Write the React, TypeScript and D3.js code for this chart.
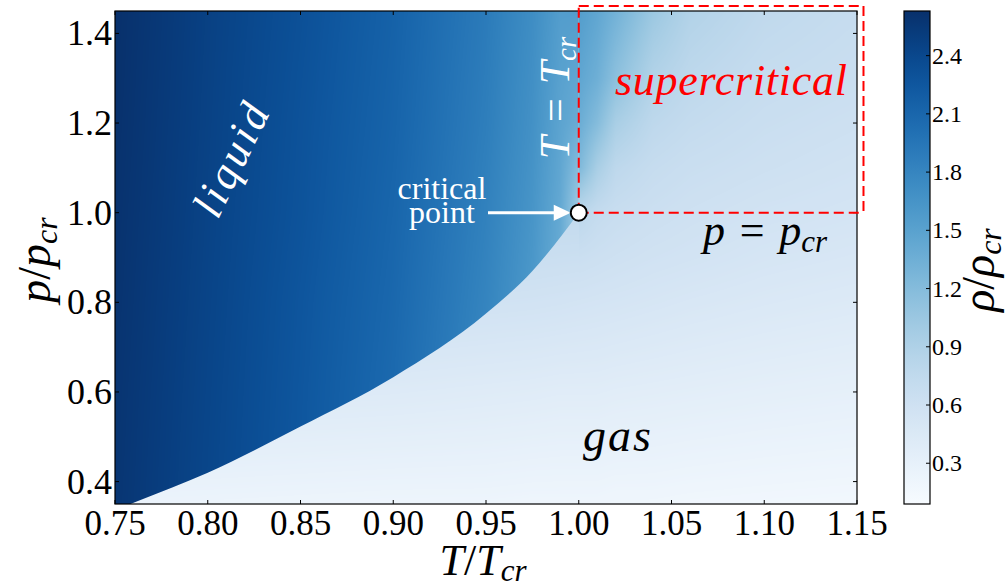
import React, { useMemo } from 'react';
import * as d3 from 'd3';

const W = 1008;
const H = 588;
const M = { left: 115, right: 857, top: 11, bottom: 504 };
const CB = { left: 904, right: 930 };

const tDomain = [0.75, 1.15];
const pDomain = [0.35, 1.45];
const rhoDomain = [0.09, 2.63];

const xTicks = [0.75, 0.8, 0.85, 0.9, 0.95, 1.0, 1.05, 1.1, 1.15];
const yTicks = [0.4, 0.6, 0.8, 1.0, 1.2, 1.4];
const cbTicks = [0.3, 0.6, 0.9, 1.2, 1.5, 1.8, 2.1, 2.4];

// saturation (liquid-vapour coexistence) curve
const satT = [0.75, 0.7617, 0.8, 0.85, 0.9, 0.95, 0.975, 1.0];
const satP = [0.336, 0.3556, 0.42, 0.523, 0.633, 0.775, 0.87, 1.0];

// critical point and supercritical box
const critT = 1.0;
const critP = 1.0;
const boxT = [1.0, 1.1535];
const boxP = [1.0, 1.461];

// liquid side densities (rows: pressure)
const liqT = [0.75, 0.8, 0.85, 0.9, 0.95, 0.975, 0.99, 1.0];
const liqP = [0.35, 0.6, 0.8, 1.0, 1.2, 1.45];
const liqRho035 = [2.58, 2.42, 2.25, 2.05, 1.75, 1.5, 1.3, 1.0];
const liqRho060 = [2.59, 2.43, 2.26, 2.07, 1.78, 1.55, 1.35, 1.0];
const liqRho080 = [2.6, 2.44, 2.27, 2.09, 1.81, 1.6, 1.38, 1.0];
const liqRho100 = [2.61, 2.45, 2.29, 2.11, 1.84, 1.64, 1.42, 1.0];
const liqRho120 = [2.62, 2.46, 2.3, 2.13, 1.87, 1.68, 1.48, 1.38];
const liqRho145 = [2.63, 2.47, 2.32, 2.15, 1.9, 1.72, 1.55, 1.55];

// gas side densities
const gasT = [0.75, 0.8, 0.85, 0.9, 0.95, 0.975, 0.99, 1.0];
const gasP = [0.35, 0.6, 0.8, 1.0];
const gasRho035 = [0.24, 0.23, 0.22, 0.21, 0.21, 0.2, 0.2, 0.2];
const gasRho060 = [0.45, 0.44, 0.43, 0.42, 0.4, 0.39, 0.38, 0.38];
const gasRho080 = [0.64, 0.62, 0.61, 0.6, 0.58, 0.57, 0.56, 0.55];
const gasRho100 = [0.85, 0.83, 0.81, 0.79, 0.77, 0.75, 0.74, 0.74];

// supercritical side densities (T >= Tcr)
const supT = [1.0, 1.01, 1.02, 1.04, 1.06, 1.1, 1.15];
const supP = [0.35, 0.6, 0.8, 0.9, 1.0, 1.1, 1.2, 1.3, 1.45];
const supRho035 = [0.2, 0.2, 0.19, 0.19, 0.18, 0.17, 0.16];
const supRho060 = [0.38, 0.38, 0.37, 0.36, 0.35, 0.33, 0.31];
const supRho080 = [0.55, 0.54, 0.53, 0.51, 0.49, 0.46, 0.43];
const supRho090 = [0.65, 0.63, 0.61, 0.58, 0.56, 0.52, 0.49];
const supRho100 = [0.8, 0.72, 0.68, 0.64, 0.61, 0.57, 0.54];
const supRho110 = [1.25, 0.95, 0.78, 0.7, 0.66, 0.62, 0.58];
const supRho120 = [1.38, 1.2, 0.95, 0.78, 0.72, 0.66, 0.62];
const supRho130 = [1.46, 1.35, 1.15, 0.88, 0.78, 0.7, 0.66];
const supRho145 = [1.55, 1.45, 1.32, 1.05, 0.88, 0.76, 0.7];

const liqGrid = [liqRho035, liqRho060, liqRho080, liqRho100, liqRho120, liqRho145];
const gasGrid = [gasRho035, gasRho060, gasRho080, gasRho100];
const supGrid = [supRho035, supRho060, supRho080, supRho090, supRho100, supRho110, supRho120, supRho130, supRho145];

const FONT = '"Liberation Serif", "DejaVu Serif", "Times New Roman", serif';
const TS: React.CSSProperties = { fontFamily: FONT };
const SP = '\u2004';

const xScale = d3.scaleLinear().domain(tDomain).range([M.left, M.right]);
const yScale = d3.scaleLinear().domain(pDomain).range([M.bottom, M.top]);
const cbScale = d3.scaleLinear().domain(rhoDomain).range([M.bottom, M.top]);

function seg(arr: number[], v: number): [number, number] {
  let i = d3.bisectRight(arr, v) - 1;
  i = Math.max(0, Math.min(arr.length - 2, i));
  const t = (v - arr[i]) / (arr[i + 1] - arr[i]);
  return [i, Math.max(0, Math.min(1, t))];
}

function bilinear(xs: number[], ys: number[], rows: number[][], x: number, y: number) {
  const [i, tx] = seg(xs, x);
  const [j, ty] = seg(ys, y);
  const a = rows[j][i] * (1 - tx) + rows[j][i + 1] * tx;
  const b = rows[j + 1][i] * (1 - tx) + rows[j + 1][i + 1] * tx;
  return a * (1 - ty) + b * ty;
}

const LUT_N = 512;
const lut = d3.range(LUT_N).map((k) => d3.rgb(d3.interpolateBlues(k / (LUT_N - 1))));

function makeImage(fn: (T: number, p: number) => number): string {
  const w = M.right - M.left;
  const h = M.bottom - M.top;
  const c = document.createElement('canvas');
  c.width = w;
  c.height = h;
  const ctx = c.getContext('2d');
  if (!ctx) return '';
  const img = ctx.createImageData(w, h);
  for (let yy = 0; yy < h; yy++) {
    const p = yScale.invert(M.top + yy + 0.5);
    for (let xx = 0; xx < w; xx++) {
      const T = xScale.invert(M.left + xx + 0.5);
      const v = fn(T, p);
      let k = Math.round(((v - rhoDomain[0]) / (rhoDomain[1] - rhoDomain[0])) * (LUT_N - 1));
      k = Math.max(0, Math.min(LUT_N - 1, k));
      const col = lut[k];
      const o = (yy * w + xx) * 4;
      img.data[o] = col.r;
      img.data[o + 1] = col.g;
      img.data[o + 2] = col.b;
      img.data[o + 3] = 255;
    }
  }
  ctx.putImageData(img, 0, 0);
  return c.toDataURL();
}

export default function App() {
  const images = useMemo(() => {
    if (typeof document === 'undefined') return { base: '', liq: '' };
    const base = makeImage((T, p) =>
      T < 1 ? bilinear(gasT, gasP, gasGrid, T, p) : bilinear(supT, supP, supGrid, T, p)
    );
    const liq = makeImage((T, p) => bilinear(liqT, liqP, liqGrid, T, p));
    return { base, liq };
  }, []);

  const satPts: [number, number][] = satT.map((t, i) => [xScale(t), yScale(satP[i])]);
  const curve = d3.line().curve(d3.curveMonotoneX)(satPts) || '';
  const liqClip =
    curve +
    `L${xScale(critT)},${M.top - 20}L${M.left - 20},${M.top - 20}L${M.left - 20},${yScale(satP[0])}Z`;

  const cx = xScale(critT);
  const cy = yScale(critP);
  const bx0 = xScale(boxT[0]);
  const bx1 = xScale(boxT[1]);
  const by0 = yScale(boxP[0]);
  const by1 = yScale(boxP[1]);

  const gradStops = d3.range(0, 21).map((k) => k / 20);

  return (
    <svg
      width={W}
      height={H}
      viewBox={`0 0 ${W} ${H}`}
      style={{ position: 'absolute', left: 0, top: 0, background: '#fff', fontFamily: FONT }}
    >
      <defs>
        <clipPath id="plotClip">
          <rect x={M.left} y={M.top} width={M.right - M.left} height={M.bottom - M.top} />
        </clipPath>
        <clipPath id="liqClip">
          <path d={liqClip} />
        </clipPath>
        <linearGradient id="cbGrad" x1="0" y1="1" x2="0" y2="0">
          {gradStops.map((s) => (
            <stop key={s} offset={s} stopColor={d3.interpolateBlues(s)} />
          ))}
        </linearGradient>
      </defs>

      <g clipPath="url(#plotClip)">
        <image href={images.base} x={M.left} y={M.top} width={M.right - M.left} height={M.bottom - M.top} />
        <g clipPath="url(#liqClip)">
          <image href={images.liq} x={M.left} y={M.top} width={M.right - M.left} height={M.bottom - M.top} />
        </g>
      </g>

      {/* frame */}
      <rect
        x={M.left}
        y={M.top}
        width={M.right - M.left}
        height={M.bottom - M.top}
        fill="none"
        stroke="#000"
        strokeWidth={1.2}
      />
      {/* ticks */}
      {xTicks.map((t) => (
        <g key={'xt' + t}>
          <line x1={xScale(t)} x2={xScale(t)} y1={M.bottom} y2={M.bottom - 4} stroke="#000" strokeWidth={1} />
          <line x1={xScale(t)} x2={xScale(t)} y1={M.top} y2={M.top + 4} stroke="#000" strokeWidth={1} />
          <text style={TS} x={xScale(t)} y={535} textAnchor="middle" fontSize={35} fill="#000">
            {t.toFixed(2)}
          </text>
        </g>
      ))}
      {yTicks.map((t) => (
        <g key={'yt' + t}>
          <line x1={M.left} x2={M.left + 4} y1={yScale(t)} y2={yScale(t)} stroke="#000" strokeWidth={1} />
          <line x1={M.right} x2={M.right - 4} y1={yScale(t)} y2={yScale(t)} stroke="#000" strokeWidth={1} />
          <text style={TS} x={112} y={yScale(t) + 12} textAnchor="end" fontSize={36} fill="#000">
            {t.toFixed(1)}
          </text>
        </g>
      ))}

      {/* axis labels */}
      <text style={TS} x={483} y={575} textAnchor="middle" fontSize={44} fill="#000">
        <tspan fontStyle="italic">T</tspan>
        <tspan>/</tspan>
        <tspan fontStyle="italic">T</tspan>
        <tspan fontStyle="italic" fontSize={31} dy={6}>cr</tspan>
      </text>
      <text style={TS} transform="translate(50,260) rotate(-90)" textAnchor="middle" fontSize={46} fill="#000">
        <tspan fontStyle="italic">p</tspan>
        <tspan>/</tspan>
        <tspan fontStyle="italic">p</tspan>
        <tspan fontStyle="italic" fontSize={32} dy={7}>cr</tspan>
      </text>

      {/* supercritical box */}
      <g fill="none" stroke="#ff0000" strokeWidth={2} strokeDasharray="10 5">
        <line x1={bx0} y1={by0} x2={bx0} y2={by1} />
        <line x1={bx0} y1={by1} x2={bx1} y2={by1} />
        <line x1={bx1} y1={by1} x2={bx1} y2={by0} />
        <line x1={bx0} y1={by0} x2={bx1} y2={by0} />
      </g>

      {/* annotations */}
      <text
        style={TS}
        transform="translate(231,160) rotate(-64)"
        textAnchor="middle"
        dominantBaseline="central"
        fontSize={44}
        fontStyle="italic"
        fill="#fff"
        textLength={120}
        lengthAdjust="spacing"
      >
        liquid
      </text>
      <text style={TS} x={617} y={451} textAnchor="middle" fontSize={46} fontStyle="italic" fill="#000" textLength={68} lengthAdjust="spacing">
        gas
      </text>
      <text
        style={TS}
        x={731}
        y={95}
        textAnchor="middle"
        fontSize={44}
        fontStyle="italic"
        fill="#ff0000"
        textLength={232}
        lengthAdjust="spacing"
      >
        supercritical
      </text>
      <text style={{ ...TS, whiteSpace: 'pre' }} x={765} y={245} textAnchor="middle" fontSize={44} fill="#000">
        <tspan fontStyle="italic">p</tspan>
        <tspan>{SP + '=' + SP}</tspan>
        <tspan fontStyle="italic">p</tspan>
        <tspan fontStyle="italic" fontSize={31} dy={7}>cr</tspan>
      </text>
      <text
        style={{ ...TS, whiteSpace: 'pre' }}
        transform="translate(569,98) rotate(-90)"
        textAnchor="middle"
        fontSize={42}
        fill="#fff"
      >
        <tspan fontStyle="italic">T</tspan>
        <tspan>{SP + '=' + SP}</tspan>
        <tspan fontStyle="italic">T</tspan>
        <tspan fontStyle="italic" fontSize={29} dy={7}>cr</tspan>
      </text>
      <text style={TS} x={442} y={199} textAnchor="middle" fontSize={32} fill="#fff">
        critical
      </text>
      <text style={TS} x={442} y={223} textAnchor="middle" fontSize={32} fill="#fff">
        point
      </text>
      {/* arrow */}
      <line x1={488} y1={cy} x2={556} y2={cy} stroke="#fff" strokeWidth={3} />
      <path d={`M${cx - 8},${cy} L${cx - 25},${cy - 8} L${cx - 25},${cy + 8} Z`} fill="#fff" />
      {/* critical point */}
      <circle cx={cx} cy={cy} r={8} fill="#fff" stroke="#000" strokeWidth={2} />

      {/* colorbar */}
      <rect
        x={CB.left}
        y={M.top}
        width={CB.right - CB.left}
        height={M.bottom - M.top}
        fill="url(#cbGrad)"
        stroke="#000"
        strokeWidth={1.2}
      />
      {cbTicks.map((t) => (
        <g key={'cb' + t}>
          <line x1={CB.right - 4} x2={CB.right} y1={cbScale(t)} y2={cbScale(t)} stroke="#000" strokeWidth={1} />
          <text style={TS} x={CB.right + 2} y={cbScale(t) + 8} fontSize={24} fill="#000">
            {t.toFixed(1)}
          </text>
        </g>
      ))}
      <text style={TS} transform="translate(994,270) rotate(-90)" textAnchor="middle" fontSize={46} fill="#000">
        <tspan fontStyle="italic">ρ</tspan>
        <tspan>/</tspan>
        <tspan fontStyle="italic">ρ</tspan>
        <tspan fontStyle="italic" fontSize={32} dy={7}>cr</tspan>
      </text>
    </svg>
  );
}
